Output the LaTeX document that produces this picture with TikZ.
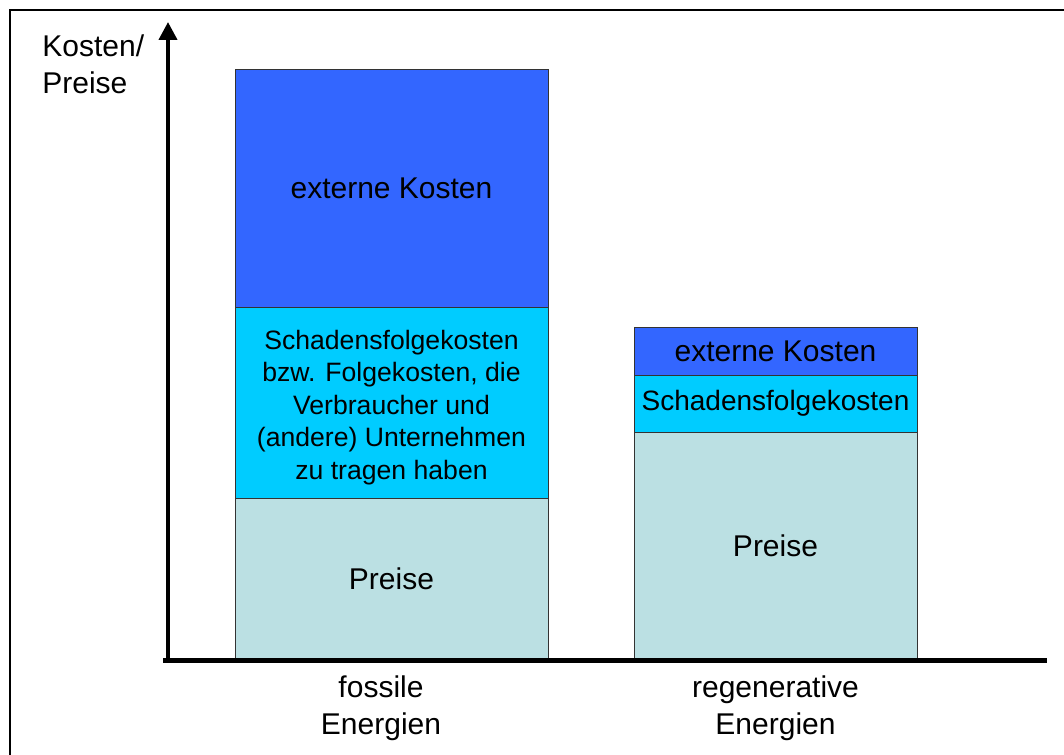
\documentclass[tikz,border=0pt]{standalone}
\usepackage{fontspec}
\setmainfont{Liberation Sans}
\usetikzlibrary{arrows.meta}
\definecolor{extern}{HTML}{3366FF}
\definecolor{schaden}{HTML}{00CCFF}
\definecolor{preis}{HTML}{BBE0E3}
\definecolor{rand}{HTML}{333333}

\begin{document}
\begin{tikzpicture}[x=0.5pt,y=-0.5pt,font=\fontsize{15}{18}\selectfont,
	block/.style={draw=rand,line width=0.5pt,inner sep=0pt,align=center},
	beschrift/.style={align=center,inner sep=0pt,font=\fontsize{15}{18.5}\selectfont}]
	\useasboundingbox (0,0) rectangle (1064,754);
	% Rahmen
	\draw[line width=1pt] (10,10) rectangle (1080,770);
	% fossile Energien
	\node[block,fill=preis,minimum width=156.5pt,minimum height=81pt] (fosPreis) at (391.5,579) {Preise};
	\node[block,fill=schaden,minimum width=156.5pt,minimum height=95.5pt] (fosSchaden) at (391.5,402.5) {};
	\node[align=center,inner sep=0pt,font=\fontsize{13.3}{16.2}\selectfont] (fosSchadenText) at (fosSchaden.center) [yshift=-2.5pt]
		{Schadensfolgekosten\\bzw. Folgekosten, die\\Verbraucher und\\(andere) Unternehmen\\zu tragen haben};
	\node[block,fill=extern,minimum width=156.5pt,minimum height=118.5pt] (fosExtern) at (391.5,188.5) {externe Kosten};
	% regenerative Energien
	\node[block,fill=preis,minimum width=141.5pt,minimum height=114pt] (regPreis) at (775.5,546) {Preise};
	\node[block,fill=schaden,minimum width=141.5pt,minimum height=28.5pt,font=\fontsize{14}{16}\selectfont] (regSchaden) at (775.5,403.5) {Schadensfolgekosten};
	\node[block,fill=extern,minimum width=141.5pt,minimum height=24pt] (regExtern) at (775.5,351) {externe Kosten};
	% Achsen
	\coordinate (ursprung) at (168,660);
	\coordinate (yende) at (168,22);
	\coordinate (xende) at (1047,660);
	\draw[line width=2pt,-{Triangle[width=9pt,length=9pt]}] (ursprung) -- (yende);
	\draw[line width=2.5pt] (163,660) -- (xende);
	\node[beschrift,align=left,anchor=west] (yachse) at (42,64) {Kosten/\\Preise};
	\node[beschrift] (fosLabel) at (381,708) {fossile\\Energien};
	\node[beschrift] (regLabel) at (775.5,708) {regenerative\\Energien};
\end{tikzpicture}
\end{document}
